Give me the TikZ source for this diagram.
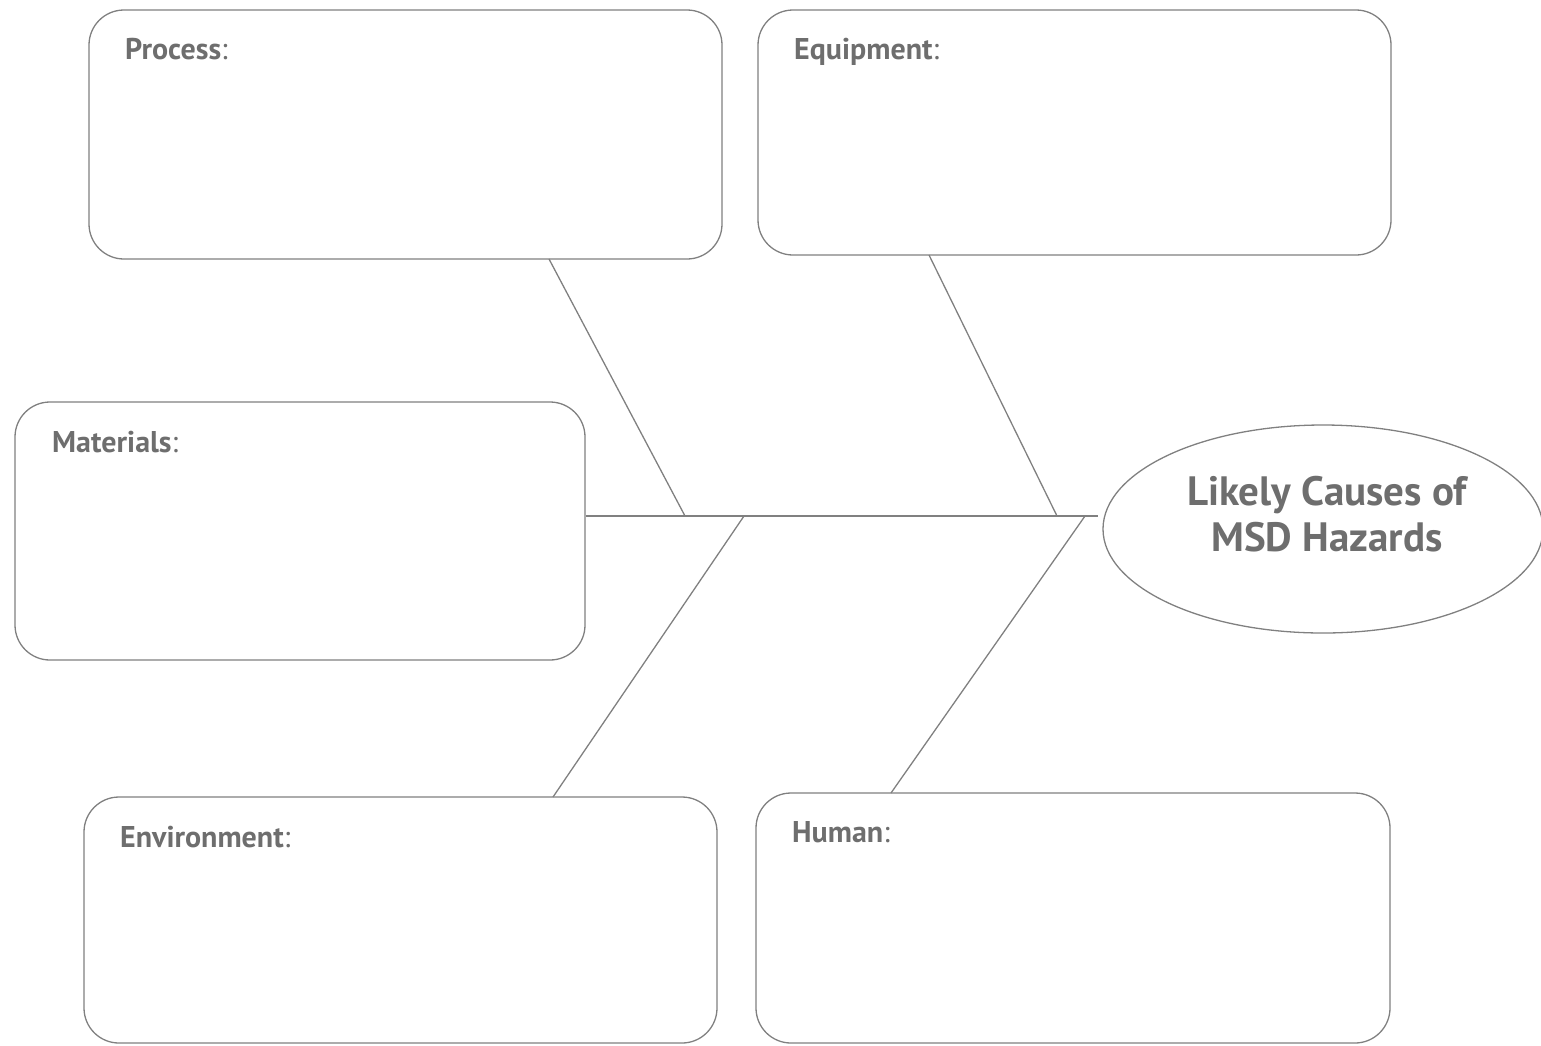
\documentclass[tikz,border=0pt]{standalone}
\usepackage{fontspec}
\newfontfamily\labfont{PT Sans}
\usetikzlibrary{shapes.geometric}
\definecolor{linegray}{HTML}{808080}
\definecolor{textgray}{HTML}{6E6E6E}
\tikzset{
  causebox/.style={draw=linegray, line width=1.3pt, rounded corners=35pt, rectangle, inner sep=0pt},
  boxlabel/.style={anchor=base west, inner sep=0pt, text=textgray, font=\labfont\fontsize{30}{34}\selectfont},
  bone/.style={draw=linegray, line width=1.3pt},
}
\newcommand{\cause}[1]{\textbf{#1}:}
\begin{document}
\begin{tikzpicture}[x=1pt, y=-1pt]
\useasboundingbox (0,0) rectangle (1541,1045);
% boxes
\node[causebox, minimum width=633pt, minimum height=249pt] (process) at (405.5,134.5) {};
\node[causebox, minimum width=633pt, minimum height=245pt] (equipment) at (1074.5,132.5) {};
\node[causebox, minimum width=570pt, minimum height=258pt] (materials) at (300,531) {};
\node[causebox, minimum width=633pt, minimum height=246pt] (environment) at (400.5,920) {};
\node[causebox, minimum width=634pt, minimum height=250pt] (human) at (1073,918) {};
\node[draw=linegray, line width=1.3pt, ellipse, minimum width=440pt, minimum height=208pt, inner sep=0pt] (effect) at (1323,529) {};
\node[align=center, inner sep=0pt, text=textgray, font=\labfont\bfseries\fontsize{41}{46}\selectfont] (title) at (1327,514) {Likely Causes of\\MSD Hazards};
% labels
\node[boxlabel] (lp) at (125,59) {\cause{Process}};
\node[boxlabel] (le) at (794,59) {\cause{Equipment}};
\node[boxlabel] (lm) at (52,452) {\cause{Materials}};
\node[boxlabel] (lv) at (120,847) {\cause{Environment}};
\node[boxlabel] (lh) at (792,842) {\cause{Human}};
% spine and bones
\coordinate (spineEnd) at (1098,516);
\coordinate (j1) at (685,516);
\coordinate (j2) at (744,516);
\coordinate (j3) at (1057,516);
\coordinate (j4) at (1085,516);
\coordinate (pA) at (549,259);
\coordinate (eA) at (929,255);
\coordinate (vA) at (553,797);
\coordinate (hA) at (891,793);
\draw[bone] (materials.east |- spineEnd) -- (spineEnd);
\draw[bone] (pA) -- (j1);
\draw[bone] (eA) -- (j3);
\draw[bone] (vA) -- (j2);
\draw[bone] (hA) -- (j4);
\end{tikzpicture}
\end{document}
